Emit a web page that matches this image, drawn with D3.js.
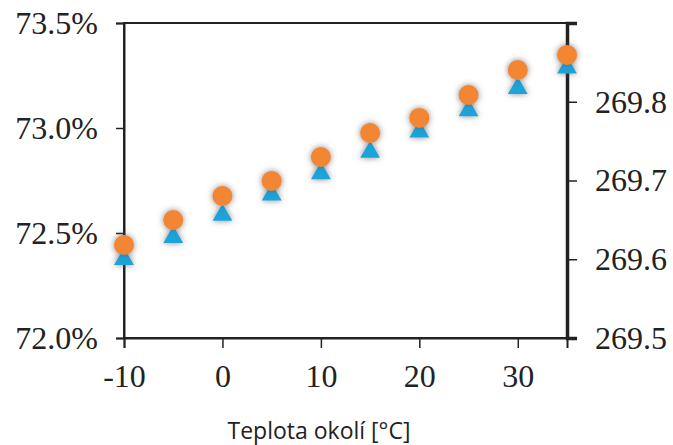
<!DOCTYPE html>
<html>
<head>
<meta charset="utf-8">
<script src="https://cdn.jsdelivr.net/npm/d3@7/dist/d3.min.js"></script>
<style>
  body { margin: 0; background: #fff; }
  .tick text { font-family: "Liberation Serif", "Times New Roman", serif; font-size: 32px; fill: #222; }
</style>
</head>
<body>
<script>
let temps = [-10, -5, 0, 5, 10, 15, 20, 25, 30, 35],
    efficiency = [72.443, 72.562, 72.676, 72.748, 72.862, 72.976, 73.048, 73.157, 73.276, 73.348],
    rightVals = [269.600, 269.628, 269.656, 269.682, 269.709, 269.736, 269.762, 269.789, 269.817, 269.843];
let xTicks = [-10, 0, 10, 20, 30],
    leftTicks = [72.0, 72.5, 73.0, 73.5],
    rightTicks = [269.5, 269.6, 269.7, 269.8];

width = 673,
    height = 445;
let margin = { top: 23, right: 106, bottom: 107, left: 124 };

function createGraph() {
    const svg = d3.select("body")
        .append("svg")
        .attr("width", width)
        .attr("height", height);

    const defs = svg.append("defs");
    defs.append("filter")
        .attr("id", "shadow")
        .attr("x", "-50%").attr("y", "-50%")
        .attr("width", "200%").attr("height", "200%")
        .append("feDropShadow")
        .attr("dx", 0).attr("dy", 0)
        .attr("stdDeviation", 3)
        .attr("flood-color", "#555")
        .attr("flood-opacity", 0.7);

    const xScale = d3.scaleLinear()
        .domain([-10, 35])
        .range([margin.left, width - margin.right]);

    const yLeft = d3.scaleLinear()
        .domain([72.0, 73.5])
        .range([height - margin.bottom, margin.top]);

    const yRight = d3.scaleLinear()
        .domain([269.5, 269.9])
        .range([height - margin.bottom, margin.top]);

    // frame
    svg.append("rect")
        .attr("x", margin.left)
        .attr("y", margin.top)
        .attr("width", width - margin.left - margin.right)
        .attr("height", height - margin.top - margin.bottom)
        .attr("fill", "none")
        .attr("stroke", "#222")
        .attr("stroke-width", 2);

    const xAxis = d3.axisBottom(xScale)
        .tickValues(xTicks)
        .tickSize(10)
        .tickPadding(16)
        .tickFormat(d => String(d));

    const leftAxis = d3.axisLeft(yLeft)
        .tickValues(leftTicks)
        .tickSize(8)
        .tickPadding(18)
        .tickFormat(d => d.toFixed(1) + "%");

    const rightAxis = d3.axisRight(yRight)
        .tickValues(rightTicks)
        .tickSize(10)
        .tickPadding(18)
        .tickFormat(d3.format(".1f"));

    const gx = svg.append("g")
        .attr("id", "x-axis")
        .attr("transform", "translate(0," + (height - margin.bottom) + ")")
        .call(xAxis);

    const gl = svg.append("g")
        .attr("id", "y-axis")
        .attr("transform", "translate(" + margin.left + ",0)")
        .call(leftAxis);

    const gr = svg.append("g")
        .attr("id", "y2-axis")
        .attr("transform", "translate(" + (width - margin.right) + ",0)")
        .call(rightAxis);

    [gx, gl, gr].forEach(g => {
        g.select(".domain").attr("stroke", "#222").attr("stroke-width", 2);
        g.selectAll(".tick line").attr("stroke", "#222").attr("stroke-width", 1.5);
    });
    gr.select(".domain").attr("stroke-width", 3.5);

    // triangles (right axis)
    svg.append("g")
        .attr("filter", "url(#shadow)")
        .selectAll("path")
        .data(temps)
        .enter()
        .append("path")
        .attr("d", d3.symbol().type(d3.symbolTriangle).size(170))
        .attr("transform", (d, i) => "translate(" + xScale(d) + "," + yRight(rightVals[i]) + ")")
        .attr("fill", "#1fa3da");

    // circles (left axis)
    svg.append("g")
        .attr("filter", "url(#shadow)")
        .selectAll("circle")
        .data(temps)
        .enter()
        .append("circle")
        .attr("cx", d => xScale(d))
        .attr("cy", (d, i) => yLeft(efficiency[i]))
        .attr("r", 10)
        .attr("fill", "#f28630");

    svg.append("text")
        .attr("x", 319)
        .attr("y", 439)
        .attr("text-anchor", "middle")
        .style("font-family", "'Open Sans', sans-serif")
        .style("font-size", "23px")
        .attr("fill", "#222")
        .text("Teplota okolí [°C]");
}

createGraph();
</script>
</body>
</html>
